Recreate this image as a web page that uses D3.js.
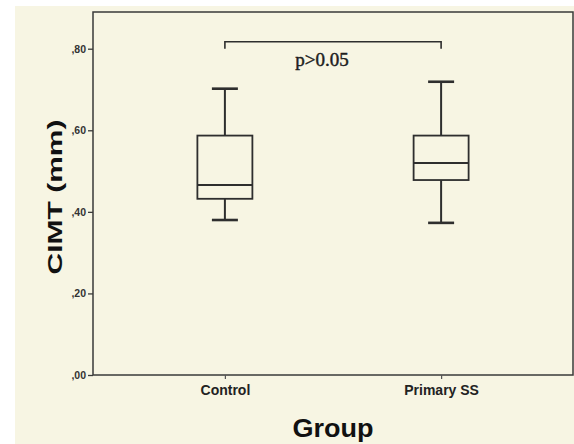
<!DOCTYPE html>
<html>
<head>
<meta charset="utf-8">
<script src="https://cdn.jsdelivr.net/npm/d3@7"></script>
<style>
  body { margin: 0; background: #fff; }
  svg { display: block; }
</style>
</head>
<body>
<div id="wrapper"></div>
<script>
// values
const groups = ["Control", "Primary SS"];
const whiskerLow = [0.380, 0.373];
const q1 = [0.432, 0.478];
const median = [0.466, 0.520];
const q3 = [0.587, 0.587];
const whiskerHigh = [0.702, 0.719];
const yTicks = [0, 0.2, 0.4, 0.6, 0.8];
const pText = "p>0.05";
const bracketTop = 0.817;
const bracketLeg = 0.800;

function build() {
    var dimension = {
        width: 574,
        height: 444,
        margin: { top: 12, right: 1, bottom: 69, left: 93 }
    };
    dimension.boundedWidth = dimension.width - dimension.margin.left - dimension.margin.right;
    dimension.boundedHeight = dimension.height - dimension.margin.top - dimension.margin.bottom;

    const ink = "#2e2e2e";

    const svg = d3.select("#wrapper")
        .append("svg")
        .attr("width", dimension.width)
        .attr("height", dimension.height);

    // cream panel
    svg.append("rect")
        .attr("x", 15).attr("y", 6)
        .attr("width", dimension.width - 15)
        .attr("height", dimension.height - 6)
        .attr("fill", "#f7f5e3");

    const x = d3.scalePoint()
        .domain(groups)
        .range([dimension.margin.left, dimension.margin.left + dimension.boundedWidth])
        .padding(0.61);

    const y = d3.scaleLinear()
        .domain([0, 0.89])
        .range([dimension.margin.top + dimension.boundedHeight, dimension.margin.top]);

    // frame
    svg.append("rect")
        .attr("x", dimension.margin.left)
        .attr("y", dimension.margin.top)
        .attr("width", dimension.boundedWidth)
        .attr("height", dimension.boundedHeight)
        .attr("fill", "none")
        .attr("stroke", "#3a3a3a")
        .attr("stroke-width", 1.5);

    // y axis
    const yAxis = svg.append("g")
        .attr("transform", `translate(${dimension.margin.left},0)`)
        .call(d3.axisLeft(y)
            .tickValues(yTicks)
            .tickSize(5)
            .tickPadding(2)
            .tickFormat(d => d3.format(".2f")(d).replace("0.", ",")));
    yAxis.select(".domain").remove();
    yAxis.selectAll("line").attr("stroke", "#3a3a3a").attr("stroke-width", 1.3);
    yAxis.selectAll("text")
        .attr("fill", "#333")
        .style("font-family", "'Liberation Sans', Arial, sans-serif")
        .style("font-size", "10.5px")
        .style("font-weight", "bold");

    // x axis
    const xAxis = svg.append("g")
        .attr("transform", `translate(0,${dimension.margin.top + dimension.boundedHeight})`)
        .call(d3.axisBottom(x).tickSize(4).tickPadding(6));
    xAxis.select(".domain").remove();
    xAxis.selectAll("line").attr("stroke", "#555").attr("stroke-width", 1.2);
    xAxis.selectAll("text")
        .attr("fill", "#222")
        .style("font-family", "'Liberation Sans', Arial, sans-serif")
        .style("font-size", "14px")
        .style("font-weight", "bold");

    // boxes
    const boxW = 55, capW = 26;
    const boxes = svg.append("g")
        .selectAll("g")
        .data(groups.map((g, i) => ({
            g: g, lo: whiskerLow[i], q1: q1[i], med: median[i], q3: q3[i], hi: whiskerHigh[i]
        })))
        .enter()
        .append("g")
        .attr("stroke", ink)
        .attr("fill", "none");

    boxes.append("line")
        .attr("x1", d => x(d.g)).attr("x2", d => x(d.g))
        .attr("y1", d => y(d.hi)).attr("y2", d => y(d.q3))
        .attr("stroke-width", 2);
    boxes.append("line")
        .attr("x1", d => x(d.g)).attr("x2", d => x(d.g))
        .attr("y1", d => y(d.q1)).attr("y2", d => y(d.lo))
        .attr("stroke-width", 2);
    boxes.append("line")
        .attr("x1", d => x(d.g) - capW / 2).attr("x2", d => x(d.g) + capW / 2)
        .attr("y1", d => y(d.hi)).attr("y2", d => y(d.hi))
        .attr("stroke-width", 2.6);
    boxes.append("line")
        .attr("x1", d => x(d.g) - capW / 2).attr("x2", d => x(d.g) + capW / 2)
        .attr("y1", d => y(d.lo)).attr("y2", d => y(d.lo))
        .attr("stroke-width", 2.6);
    boxes.append("rect")
        .attr("x", d => x(d.g) - boxW / 2)
        .attr("y", d => y(d.q3))
        .attr("width", boxW)
        .attr("height", d => y(d.q1) - y(d.q3))
        .attr("fill", "#f7f5e3")
        .attr("stroke-width", 1.8);
    boxes.append("line")
        .attr("x1", d => x(d.g) - boxW / 2).attr("x2", d => x(d.g) + boxW / 2)
        .attr("y1", d => y(d.med)).attr("y2", d => y(d.med))
        .attr("stroke-width", 2);

    // significance bracket
    const x0 = x(groups[0]), x1 = x(groups[1]);
    svg.append("path")
        .attr("d", `M${x0},${y(bracketLeg)}V${y(bracketTop)}H${x1}V${y(bracketLeg)}`)
        .attr("fill", "none")
        .attr("stroke", ink)
        .attr("stroke-width", 1.6);
    svg.append("text")
        .attr("x", (x0 + x1) / 2 - 11)
        .attr("y", 66)
        .attr("text-anchor", "middle")
        .attr("fill", "#1e1e1e")
        .attr("stroke", "#1e1e1e")
        .attr("stroke-width", 0.45)
        .style("font-family", "'Liberation Serif', 'Times New Roman', serif")
        .style("font-size", "19px")
        .text(pText);

    // axis titles
    svg.append("text")
        .attr("x", dimension.margin.left + dimension.boundedWidth / 2)
        .attr("y", 437)
        .attr("text-anchor", "middle")
        .attr("textLength", 81)
        .attr("lengthAdjust", "spacingAndGlyphs")
        .attr("fill", "#111")
        .style("font-family", "'Liberation Sans', Arial, sans-serif")
        .style("font-size", "25px")
        .style("font-weight", "bold")
        .text("Group");

    svg.append("text")
        .attr("transform", "translate(62,197) rotate(-90)")
        .attr("text-anchor", "middle")
        .attr("textLength", 155)
        .attr("lengthAdjust", "spacingAndGlyphs")
        .attr("fill", "#111")
        .style("font-family", "'Liberation Sans', Arial, sans-serif")
        .style("font-size", "20px")
        .style("font-weight", "bold")
        .text("CIMT (mm)");
}

build();
</script>
</body>
</html>
